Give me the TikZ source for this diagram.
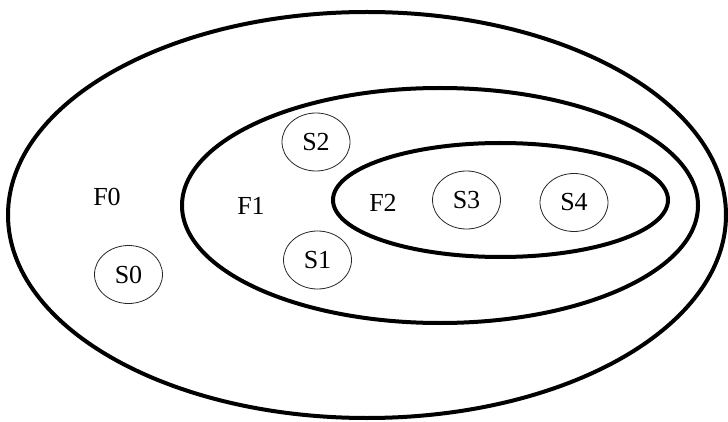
\documentclass[tikz,border=0pt]{standalone}
\usepackage{fontspec}
\setmainfont{Liberation Serif}
\usetikzlibrary{shapes.geometric}
\begin{document}
\begin{tikzpicture}[x=1pt,y=-1pt,
  setbox/.style={draw=black, line width=4pt, ellipse, inner sep=0pt},
  stbox/.style={draw=black!85, line width=0.8pt, ellipse, inner sep=0pt,
    minimum width=68pt, minimum height=58pt, font=\fontsize{26}{30}\selectfont},
  lbl/.style={inner sep=0pt, font=\fontsize{26}{30}\selectfont}]
\useasboundingbox (0,0) rectangle (728,422);
\fill[white] (0,0) rectangle (728,422);
\node[setbox, minimum width=718pt, minimum height=406pt] (f0) at (367,215) {};
\node[setbox, minimum width=516pt, minimum height=235pt] (f1) at (440,205.5) {};
\node[setbox, minimum width=335pt, minimum height=114pt] (f2) at (500.5,200) {};
\node[lbl] (lf0) at (107,197) {F0};
\node[lbl] (lf1) at (251,206) {F1};
\node[lbl] (lf2) at (383,203) {F2};
\node[stbox] (s0) at (128.5,274.5) {S0};
\node[stbox] (s1) at (317.5,260) {S1};
\node[stbox] (s2) at (316,142) {S2};
\node[stbox] (s3) at (466.5,200) {S3};
\node[stbox] (s4) at (574,202.5) {S4};
\end{tikzpicture}
\end{document}
